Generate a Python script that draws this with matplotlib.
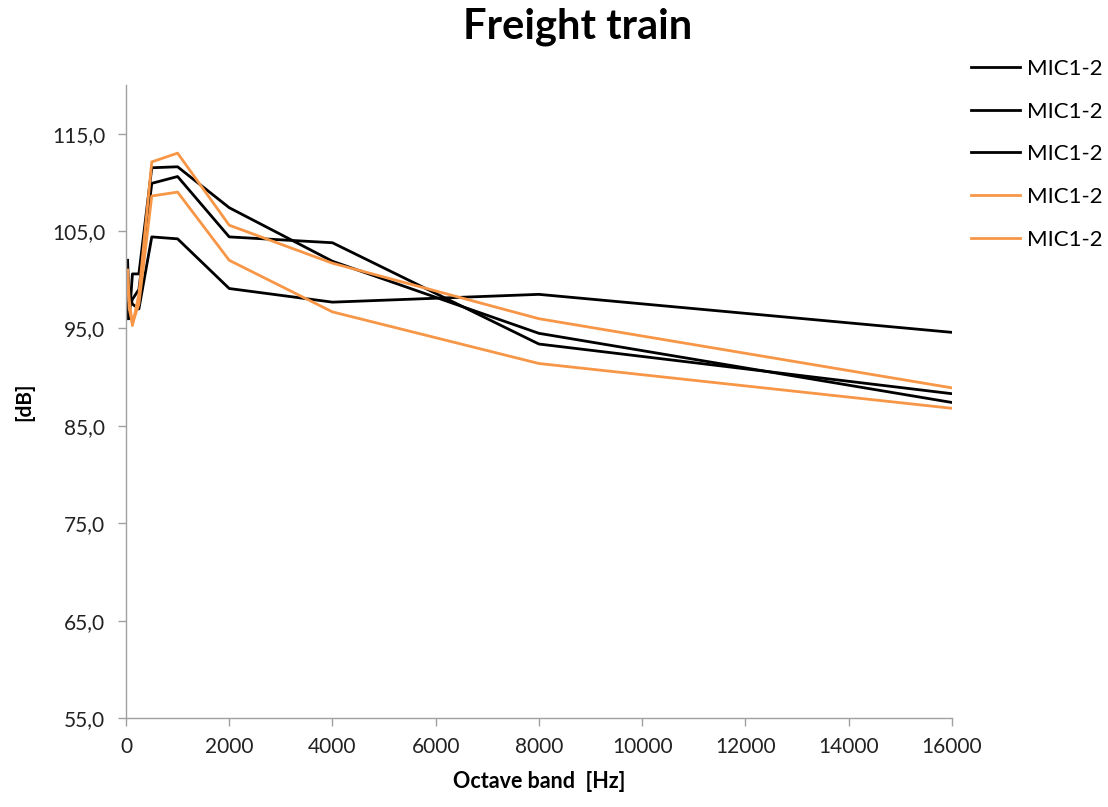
import matplotlib
matplotlib.use("Agg")
import matplotlib.pyplot as plt
from matplotlib.ticker import FuncFormatter

plt.rcParams['font.family'] = ['Lato', 'DejaVu Sans']

# octave band centre frequencies [Hz]
bands = [31.5, 63, 125, 250, 500, 1000, 2000, 4000, 8000, 16000]

# sound pressure level per band [dB]
mic_a = [97.5, 96.0, 100.6, 100.6, 111.5, 111.6, 107.4, 101.9, 94.5, 87.4]
mic_b = [102.0, 97.0, 98.0, 99.0, 109.9, 110.6, 104.4, 103.8, 93.4, 88.3]
mic_c = [96.0, 98.5, 97.5, 97.0, 104.4, 104.2, 99.1, 97.7, 98.5, 94.6]
mic_d = [101.0, 98.0, 95.3, 98.5, 112.1, 113.0, 105.6, 101.7, 96.0, 88.9]
mic_e = [100.0, 97.0, 95.5, 97.5, 108.6, 109.0, 102.0, 96.7, 91.4, 86.8]

series = [mic_a, mic_b, mic_c, mic_d, mic_e]
labels = ['MIC1-2'] * 5
colors = ['black', 'black', 'black', '#F79646', '#F79646']

fig = plt.figure(figsize=(11.08, 8.07), dpi=100)
ax = fig.add_axes([0.1137, 0.1103, 0.859 - 0.1137, 0.8947 - 0.1103])

for vals, lab, col in zip(series, labels, colors):
    ax.plot(bands, vals, color=col, lw=2.0, label=lab)

ax.set_xlim(0, 16000)
ax.set_ylim(55, 120)
ax.set_xticks(range(0, 16001, 2000))
ax.set_yticks(range(55, 116, 10))
ax.yaxis.set_major_formatter(FuncFormatter(lambda v, p: f"{v:.1f}".replace('.', ',')))

for side in ['top', 'right']:
    ax.spines[side].set_visible(False)
for side in ['left', 'bottom']:
    ax.spines[side].set_color('#A0A0A0')
    ax.spines[side].set_linewidth(1.0)
ax.tick_params(axis='both', colors='#A0A0A0', length=6, width=1.0,
               labelcolor='#222222', labelsize=15)
ax.tick_params(axis='y', pad=9)
ax.tick_params(axis='x', pad=8)

ax.set_xlabel('Octave band  [Hz]', fontsize=15.5, fontweight='bold', labelpad=10)
ax.set_ylabel('[dB]', fontsize=15, fontweight='bold', labelpad=13)
fig.text(0.521, 0.967, 'Freight train', ha='center', va='center',
         fontsize=30, fontweight='bold')

fig.legend(loc='upper left', bbox_to_anchor=(0.868, 0.938), frameon=False,
           fontsize=16, handlelength=2.2, handletextpad=0.35, labelspacing=1.02,
           borderaxespad=0)

fig.savefig('out.png', dpi=100)
